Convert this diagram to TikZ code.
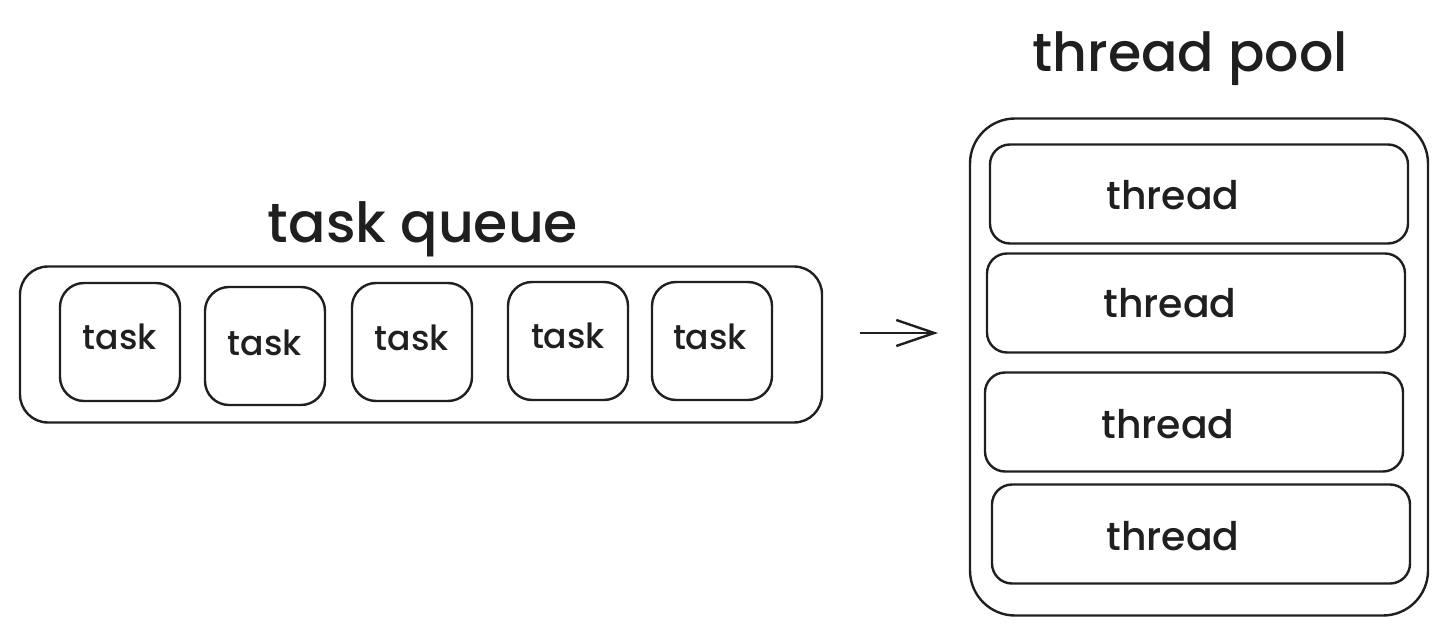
\documentclass[tikz,border=0pt]{standalone}
\usepackage{fontspec}
\usepackage{graphicx}
\setmainfont{Poppins Medium}
\usetikzlibrary{arrows.meta}
\tikzset{
  sk/.style={draw=black!88, line width=2.4pt},
  qbox/.style={sk, rectangle, rounded corners=28pt, minimum width=802pt, minimum height=156pt, inner sep=0pt},
  taskbox/.style={sk, rectangle, rounded corners=24pt, minimum width=120pt, minimum height=118pt, inner sep=0pt},
  poolbox/.style={sk, rectangle, rounded corners=45pt, minimum width=458pt, minimum height=497pt, inner sep=0pt},
  thbox/.style={sk, rectangle, rounded corners=20pt, minimum width=418pt, minimum height=99pt, inner sep=0pt},
  txt/.style={anchor=base, inner sep=0pt, text=black!88},
}
\newcommand{\tasklbl}{\resizebox{74pt}{!}{task}}
\newcommand{\threadlbl}{\resizebox{133pt}{!}{thread}}
\begin{document}
\begin{tikzpicture}[x=1pt,y=-1pt]
\useasboundingbox (0,0) rectangle (1447,636);
% titles
\node[txt] (tq) at (423,243) {\resizebox{310pt}{!}{task queue}};
\node[txt] (tp) at (1190,72) {\resizebox{315pt}{!}{thread pool}};
% queue
\node[qbox] (queue) at (421,344.5) {};
\node[taskbox] (k1) at (120,342) {};
\node[taskbox] (k2) at (265,346) {};
\node[taskbox] (k3) at (412,342) {};
\node[taskbox] (k4) at (568,341) {};
\node[taskbox] (k5) at (712,341) {};
\node[txt] (l1) at (120,349) {\tasklbl};
\node[txt] (l2) at (265,355) {\tasklbl};
\node[txt] (l3) at (412,350) {\tasklbl};
\node[txt] (l4) at (568,348) {\tasklbl};
\node[txt] (l5) at (710,349) {\tasklbl};
% arrow
\coordinate (a1) at (860,333);
\coordinate (a2) at (938,333);
\draw[sk, -{Straight Barb[length=38pt,width=26pt,line width=2.4pt]}] (a1) -- (a2);
% pool
\node[poolbox] (pool) at (1199,367) {};
\node[thbox] (h1) at (1199,194) {};
\node[thbox] (h2) at (1196,303) {};
\node[thbox] (h3) at (1194,422) {};
\node[thbox] (h4) at (1201,534) {};
\node[txt] (m1) at (1173,210) {\threadlbl};
\node[txt] (m2) at (1170,317) {\threadlbl};
\node[txt] (m3) at (1168,438) {\threadlbl};
\node[txt] (m4) at (1173,550) {\threadlbl};
\end{tikzpicture}
\end{document}
